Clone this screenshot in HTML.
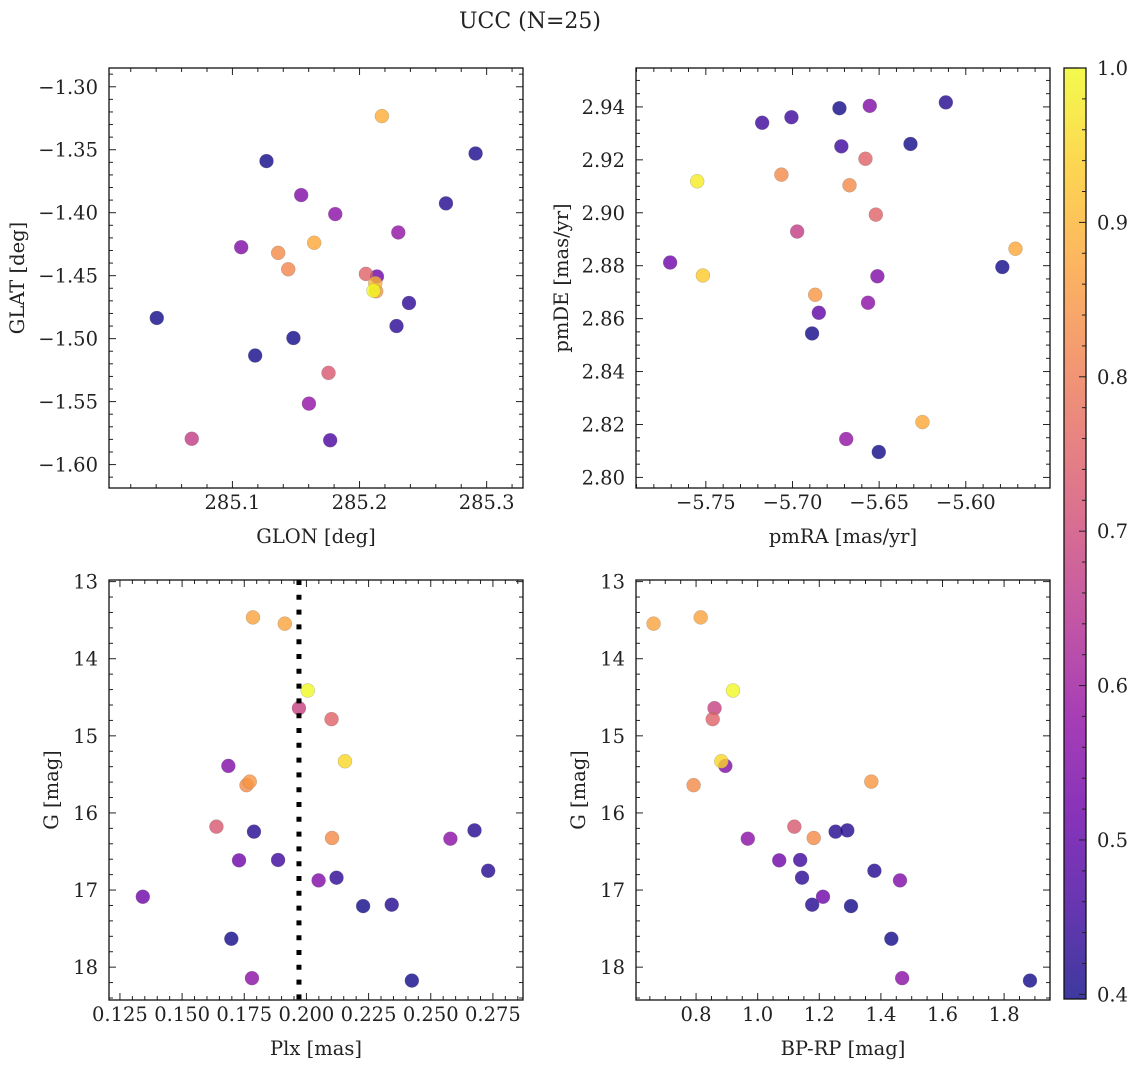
<!DOCTYPE html>
<html><head><meta charset="utf-8">
<style>
html,body{margin:0;padding:0;background:#fff;}
svg{display:block;}
text{font-family:"DejaVu Serif","Liberation Serif",serif;fill:#222;}
</style></head>
<body>
<svg id="fig" width="1136" height="1067" viewBox="0 0 1136 1067" xmlns="http://www.w3.org/2000/svg">
<text x="530" y="28" text-anchor="middle" font-size="22">UCC (N=25)</text>
</svg>
<script>
// ---- data ----
const glon = [285.2176,285.2913,285.1268,285.1541,285.268,285.1809,285.2305,285.1069,285.1643,285.136,285.1439,285.205,285.2137,285.2124,285.2131,285.211,285.2389,285.0405,285.2291,285.148,285.1179,285.1756,285.1602,285.068,285.1769];
const glat = [-1.3233,-1.353,-1.359,-1.386,-1.3926,-1.4011,-1.4157,-1.4274,-1.4239,-1.4319,-1.4449,-1.4486,-1.4507,-1.456,-1.4624,-1.4619,-1.4717,-1.4836,-1.49,-1.4995,-1.5134,-1.5272,-1.5516,-1.5795,-1.5807];
const probA = [0.89,0.41,0.40,0.55,0.42,0.57,0.58,0.55,0.88,0.83,0.82,0.75,0.52,0.90,0.85,1.0,0.43,0.40,0.43,0.40,0.40,0.73,0.58,0.67,0.47];
const pmra = [-5.6115,-5.6554,-5.6729,-5.7006,-5.7175,-5.6319,-5.6718,-5.6579,-5.7064,-5.755,-5.6671,-5.6519,-5.6973,-5.5713,-5.7706,-5.5789,-5.7517,-5.651,-5.6869,-5.6564,-5.6848,-5.6887,-5.625,-5.669,-5.6502];
const pmde = [2.9417,2.9404,2.9395,2.9361,2.934,2.926,2.9251,2.9204,2.9144,2.9119,2.9104,2.8993,2.8929,2.8864,2.8812,2.8795,2.8763,2.876,2.869,2.866,2.8622,2.8544,2.8209,2.8145,2.8096];
const probB = [0.42,0.55,0.40,0.45,0.45,0.40,0.45,0.75,0.83,0.98,0.83,0.75,0.67,0.88,0.52,0.40,0.93,0.55,0.85,0.57,0.50,0.40,0.88,0.58,0.40];
const plx = [0.1785,0.1913,0.2005,0.197,0.2101,0.2155,0.1686,0.1772,0.1759,0.1638,0.1789,0.2103,0.2579,0.2676,0.1729,0.1886,0.2049,0.2121,0.2731,0.1342,0.2228,0.2343,0.1698,0.1781,0.2424];
const gmag = [13.464,13.545,14.412,14.641,14.784,15.33,15.39,15.594,15.64,16.178,16.243,16.325,16.334,16.226,16.615,16.61,16.875,16.84,16.75,17.087,17.208,17.19,17.632,18.143,18.174];
const bprp = [0.815,0.662,0.920,0.860,0.854,0.882,0.895,1.369,0.792,1.119,1.253,1.182,0.968,1.291,1.070,1.138,1.462,1.144,1.379,1.212,1.303,1.177,1.434,1.469,1.884];
const probC = [0.87,0.87,1.0,0.68,0.75,0.95,0.55,0.85,0.83,0.73,0.42,0.83,0.57,0.42,0.52,0.45,0.55,0.43,0.42,0.52,0.40,0.42,0.40,0.57,0.40];
const plxLine = 0.197;
const cbMin = 0.397, cbMax = 1.0;
const cbTicks = [0.4,0.5,0.6,0.7,0.8,0.9,1.0];

const NS='http://www.w3.org/2000/svg';
const svg=document.getElementById('fig');
function mk(tag,attrs,parent){const e=document.createElementNS(NS,tag);for(const k in attrs)e.setAttribute(k,attrs[k]);(parent||svg).appendChild(e);return e;}
const stops=[[13,8,135],[65,4,157],[106,0,168],[143,13,164],[177,42,144],[204,71,120],[225,100,98],[242,132,75],[252,166,54],[252,206,37],[240,249,33]];
function plasma(t){t=Math.max(0,Math.min(1,t));const p=t*10,i=Math.min(9,Math.floor(p)),f=p-i;const a=stops[i],b=stops[i+1];return 'rgb('+[0,1,2].map(k=>Math.round(a[k]+(b[k]-a[k])*f)).join(',')+')';}
function cmap(v){return plasma((v-cbMin)/(cbMax-cbMin));}
function fmt(v,d){return v.toFixed(d).replace('-','\u2212');}

function panel(o){
  const g=mk('g',{});
  
  
  const sx=v=>o.x0+(v-o.xmin)/(o.xmax-o.xmin)*(o.x1-o.x0);
  const sy=v=>o.yinv? o.y0+(v-o.ymin)/(o.ymax-o.ymin)*(o.y1-o.y0) : o.y1-(v-o.ymin)/(o.ymax-o.ymin)*(o.y1-o.y0);
  const pg=mk('g',{},g);
  
  
  const idx=o.xs.map((_,i)=>i).sort((a,b)=>o.c[a]-o.c[b]);
  idx.forEach(i=>{
    const c=mk('circle',{cx:sx(o.xs[i]),cy:sy(o.ys[i]),r:7,fill:cmap(o.c[i]),'fill-opacity':0.8,stroke:'#777','stroke-width':0.4,'stroke-opacity':0.6},pg);
    
    
  });
  if(o.vline!==undefined){
    const l=mk('line',{x1:sx(o.vline),x2:sx(o.vline),y1:o.y0,y2:o.y1,stroke:'#000','stroke-width':5,'stroke-dasharray':'5 9.8'},g);
    
    
  }
  const tg=mk('g',{stroke:'#222','stroke-width':1},g);
  
  
  const eps=1e-9;
  for(let v=Math.ceil(o.xmin/o.xminor-eps)*o.xminor; v<=o.xmax+eps; v+=o.xminor){
    const X=sx(v); const maj=Math.abs(v/o.xmajor-Math.round(v/o.xmajor))<1e-4; const L=maj?7:4;
    mk('line',{x1:X,x2:X,y1:o.y1,y2:o.y1-L},tg); mk('line',{x1:X,x2:X,y1:o.y0,y2:o.y0+L},tg);
  }
  for(let v=Math.ceil(o.ymin/o.yminor-eps)*o.yminor; v<=o.ymax+eps; v+=o.yminor){
    const Y=sy(v); const maj=Math.abs(v/o.ymajor-Math.round(v/o.ymajor))<1e-4; const L=maj?7:4;
    mk('line',{x1:o.x0,x2:o.x0+L,y1:Y,y2:Y},tg); mk('line',{x1:o.x1,x2:o.x1-L,y1:Y,y2:Y},tg);
  }
  const fr=mk('rect',{x:o.x0,y:o.y0,width:o.x1-o.x0,height:o.y1-o.y0,fill:'none',stroke:'#111','stroke-width':1.3},g);
  
  
  o.xticks.forEach(v=>{
    const t=mk('text',{x:sx(v),y:o.y1+21,'text-anchor':'middle','font-size':19.5},g);
    t.textContent=fmt(v,o.xdec);
    
    
  });
  o.yticks.forEach(v=>{
    const t=mk('text',{x:o.x0-11,y:sy(v)+7,'text-anchor':'end','font-size':19.5},g);
    t.textContent=fmt(v,o.ydec);
    
    
  });
  const xl=mk('text',{x:(o.x0+o.x1)/2,y:o.y1+55,'text-anchor':'middle','font-size':19.5},g);
  xl.textContent=o.xlabel;
  
  
  const ly=(o.y0+o.y1)/2;
  const yl=mk('text',{x:o.ylx,y:ly,'text-anchor':'middle','font-size':19.5,transform:'rotate(-90 '+o.ylx+' '+ly+')'},g);
  yl.textContent=o.ylabel;
  
  
}

panel({name:'glon-glat-panel',x0:109,x1:523,y0:68,y1:488,xmin:285.0029,xmax:285.3286,ymin:-1.6186,ymax:-1.2851,xs:glon,ys:glat,c:probA,
  xminor:0.02,xmajor:0.1,yminor:0.01,ymajor:0.05,xticks:[285.1,285.2,285.3],yticks:[-1.30,-1.35,-1.40,-1.45,-1.50,-1.55,-1.60],xdec:1,ydec:2,
  xlabel:'GLON [deg]',ylabel:'GLAT [deg]',ylx:24});
panel({name:'pmra-pmde-panel',x0:636,x1:1050,y0:68,y1:488,xmin:-5.7903,xmax:-5.5514,ymin:2.7960,ymax:2.9547,xs:pmra,ys:pmde,c:probB,
  xminor:0.01,xmajor:0.05,yminor:0.005,ymajor:0.02,xticks:[-5.75,-5.70,-5.65,-5.60],yticks:[2.80,2.82,2.84,2.86,2.88,2.90,2.92,2.94],xdec:2,ydec:2,
  xlabel:'pmRA [mas/yr]',ylabel:'pmDE [mas/yr]',ylx:568});
panel({name:'plx-g-panel',x0:109,x1:523,y0:580,y1:1000,xmin:0.1206,xmax:0.2871,ymin:12.979,ymax:18.426,yinv:true,xs:plx,ys:gmag,c:probC,vline:plxLine,
  xminor:0.005,xmajor:0.025,yminor:0.2,ymajor:1,xticks:[0.125,0.150,0.175,0.200,0.225,0.250,0.275],yticks:[13,14,15,16,17,18],xdec:3,ydec:0,
  xlabel:'Plx [mas]',ylabel:'G [mag]',ylx:58});
panel({name:'bprp-g-panel',x0:636,x1:1050,y0:580,y1:1000,xmin:0.605,xmax:1.949,ymin:12.979,ymax:18.426,yinv:true,xs:bprp,ys:gmag,c:probC,
  xminor:0.05,xmajor:0.2,yminor:0.2,ymajor:1,xticks:[0.8,1.0,1.2,1.4,1.6,1.8],yticks:[13,14,15,16,17,18],xdec:1,ydec:0,
  xlabel:'BP-RP [mag]',ylabel:'G [mag]',ylx:585});

(function(){
  const cx0=1064,cx1=1086,cy0=68,cy1=999;
  const g=mk('g',{});
  
  
  const defs=mk('defs',{},g);
  const lg=mk('linearGradient',{id:'cbg',x1:0,y1:1,x2:0,y2:0},defs);
  for(let i=0;i<=20;i++){mk('stop',{offset:i/20,'stop-color':plasma(i/20),'stop-opacity':0.8},lg);}
  mk('rect',{x:cx0,y:cy0,width:cx1-cx0,height:cy1-cy0,fill:'url(#cbg)',stroke:'#111','stroke-width':1.3},g);
  const sy=v=>cy1-(v-cbMin)/(cbMax-cbMin)*(cy1-cy0);
  for(let v=0.4;v<=1.0001;v+=0.02){
    const Y=sy(v); const maj=Math.abs(v*10-Math.round(v*10))<1e-4;
    mk('line',{x1:cx1,x2:cx1-(maj?7:4),y1:Y,y2:Y,stroke:'#222','stroke-width':1},g);
  }
  cbTicks.forEach(v=>{
    const t=mk('text',{x:cx1+11,y:sy(v)+7,'font-size':19.5},g);
    t.textContent=v.toFixed(1);
    
    
  });
})();
</script>
</body></html>
